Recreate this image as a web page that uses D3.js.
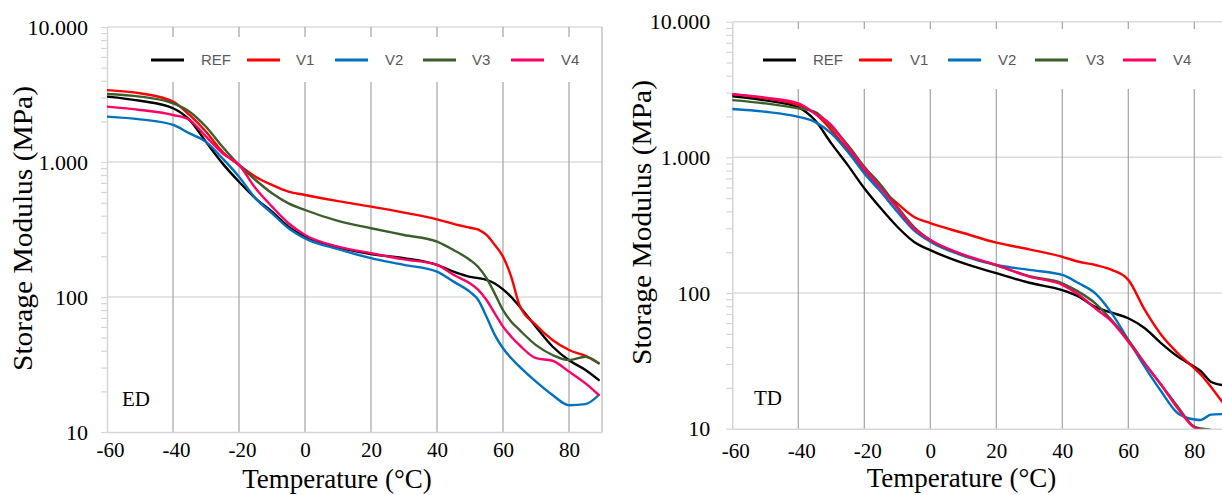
<!DOCTYPE html>
<html>
<head>
<meta charset="utf-8">
<script src="https://cdn.jsdelivr.net/npm/d3@7"></script>
<style>
  html, body { margin: 0; padding: 0; background: #ffffff; }
  svg { display: block; }
</style>
</head>
<body>
<svg id="chart" width="1222" height="495"></svg>
<script>
// ---------------- DATA ----------------
const seriesNames = ["REF", "V1", "V2", "V3", "V4"];

// ED panel (left)
const tempED = [-60,-50,-40,-35,-30,-25,-20,-15,-10,-5,0,10,20,30,40,45,50,52.5,55,57.5,60,62.5,65,70,75,80,85,89];
const refED = [3050,2840,2500,2050,1410,977,714,538,429,332,280,233,208,194,173,154,141,138,134,126,114,100,85,60,43,34,28.8,24.3];
const v1ED  = [3410,3230,2800,2230,1675,1190,951,778,676,603,570,513,467,422,376,348,326,316,288,243,199,141,87,62,48,40.5,36.6,32.3];
const v2ED  = [2170,2070,1880,1630,1410,1064,778,538,417,323,272,226,194,173,154,130,109,95,71.4,52.4,41.7,35.2,30.5,23.6,18.8,15.8,16.1,18.8];
const v3ED  = [3190,3050,2720,2360,1824,1297,951,736,586,494,441,366,323,288,257,223,188,167,138,106,80,65.6,57,44,37.2,34.1,36.1,32.3];
const v4ED  = [2570,2430,2230,2050,1540,1160,951,638,467,352,288,236,211,190,173,146,126,113,95,75.7,60.3,50.8,44,35.2,33.7,28,22.9,18.8];

// TD panel (right)
const tempTD = [-60,-50,-40,-35,-30,-25,-20,-15,-10,-5,0,10,20,30,40,45,50,55,60,65,70,75,80,82,85,88.5];
const refTD = [2820,2630,2340,1884,1268,877,592,421,308,239,207,166,140,119,105,94,79,71.6,65.2,55,42.6,34,28.6,26.5,22.2,21];
const v1TD  = [2924,2723,2427,2109,1589,1132,805,592,458,365,327,277,235,210,185,170,161,148,125,75,49,36,27.9,25,20.4,15.7];
const v2TD  = [2270,2168,1991,1828,1503,1099,762,558,397,291,239,188,161,148,136,118,99.5,70.8,45,28.6,18.8,13,11.7,11.6,12.7,12.8];
const v3TD  = [2642,2500,2296,2168,1683,1233,853,625,433,308,246,191,160,133,118,102,84,63,45,30.3,21,14.5,10.35,10.05,9.8,9.3];
const v4TD  = [2924,2754,2500,2109,1730,1197,830,592,421,300,246,192,161,132,115,97,77,61.5,43.8,30.3,21,14.1,10.2,9.8,8.9,8.3];

const xTickValues = [-60,-40,-20,0,20,40,60,80];
const xTickLabels = ["-60","-40","-20","0","20","40","60","80"];
const yTickValues = [10,100,1000,10000];
const yTickLabels = ["10","100","1.000","10.000"];
const panelLabels = ["ED","TD"];

// ---------------- STYLE ----------------
const colors = ["#000000", "#ff0000", "#0070c0", "#3b5e2b", "#ff0066"];
const serif = "'Liberation Serif','Times New Roman',serif";
const sans = "'Liberation Sans',Arial,sans-serif";

const svg = d3.select("#chart");

function drawPanel(cfg) {
  const g = svg.append("g");
  const x = d3.scaleLinear().domain([-60, 90]).range([cfg.x0, cfg.x1]);
  const y = d3.scaleLog().domain([10, 10000]).range([cfg.y0, cfg.y1]);
  const clipId = "clip" + cfg.id;

  svg.append("clipPath").attr("id", clipId)
    .append("rect")
    .attr("x", cfg.x0).attr("y", cfg.y1)
    .attr("width", cfg.x1 - cfg.x0).attr("height", cfg.y0 - cfg.y1);

  // horizontal gridlines
  g.append("g").selectAll("line").data(yTickValues.slice(1)).join("line")
    .attr("x1", cfg.x0).attr("x2", Math.min(cfg.x1, 1222))
    .attr("y1", d => y(d)).attr("y2", d => y(d))
    .attr("stroke", "#dcdcdc").attr("stroke-width", 1.5);

  // vertical gridlines
  g.append("g").selectAll("line").data(xTickValues.slice(1)).join("line")
    .attr("x1", d => x(d)).attr("x2", d => x(d))
    .attr("y1", cfg.y1).attr("y2", cfg.y0)
    .attr("stroke", "#a3a3a3").attr("stroke-width", 1.2);

  // right border
  if (cfg.x1 <= 1222) {
    g.append("line")
      .attr("x1", cfg.x1).attr("x2", cfg.x1)
      .attr("y1", cfg.y1).attr("y2", cfg.y0)
      .attr("stroke", "#b5b5b5").attr("stroke-width", 1.2);
  }

  // y axis with minor ticks
  const allY = [];
  [10, 100, 1000].forEach(dec => { for (let k = 1; k <= 9; k++) allY.push(dec * k); });
  allY.push(10000);
  const yLab = new Map(yTickValues.map((v, i) => [v, yTickLabels[i]]));
  const yAxis = g.append("g")
    .attr("transform", `translate(${cfg.x0},0)`)
    .call(d3.axisLeft(y).tickValues(allY).tickSize(6).tickSizeOuter(0)
      .tickPadding(cfg.yPad).tickFormat(d => yLab.get(d) || ""));
  yAxis.select(".domain").attr("stroke", "#d6d6d6").attr("stroke-width", 1.5);
  yAxis.selectAll(".tick line").attr("stroke", "#d6d6d6").attr("stroke-width", 1.2);
  yAxis.selectAll(".tick text")
    .attr("font-family", serif).attr("font-size", 22).attr("fill", "#000");

  // x axis
  const xLab = new Map(xTickValues.map((v, i) => [v, xTickLabels[i]]));
  const xAxis = g.append("g")
    .attr("transform", `translate(0,${cfg.y0})`)
    .call(d3.axisBottom(x).tickValues(xTickValues).tickSize(0).tickSizeOuter(0)
      .tickPadding(cfg.xPad).tickFormat(d => xLab.get(d)));
  xAxis.select(".domain").attr("stroke", "#d6d6d6").attr("stroke-width", 1.5);
  xAxis.selectAll(".tick text")
    .attr("font-family", serif).attr("font-size", 21).attr("fill", "#000")
    .attr("dx", d => d < 0 ? 3 : 0);

  // legend box (white, interrupts gridlines)
  g.append("rect")
    .attr("x", cfg.legX0).attr("y", cfg.legY0)
    .attr("width", cfg.legX1 - cfg.legX0).attr("height", cfg.legY1 - cfg.legY0)
    .attr("fill", "#ffffff");

  const leg = g.append("g");
  seriesNames.forEach((name, i) => {
    leg.append("line")
      .attr("x1", cfg.legLine[i]).attr("x2", cfg.legLine[i] + 33)
      .attr("y1", 60).attr("y2", 60)
      .attr("stroke", colors[i]).attr("stroke-width", 3);
    leg.append("text")
      .attr("x", cfg.legText[i]).attr("y", 60).attr("dy", "0.35em")
      .attr("font-family", sans).attr("font-size", 15).attr("fill", "#595959")
      .text(name);
  });

  // curves
  const line = d3.line()
    .x(d => x(d[0])).y(d => y(d[1]))
    .curve(d3.curveMonotoneX);
  const curvesG = g.append("g").attr("clip-path", `url(#${clipId})`);
  cfg.series.forEach((vals, i) => {
    const pts = cfg.temps.map((t, j) => [t, vals[j]]);
    curvesG.append("path")
      .attr("d", line(pts))
      .attr("fill", "none")
      .attr("stroke", colors[i])
      .attr("stroke-width", 2.4)
      .attr("stroke-linejoin", "round")
      .attr("stroke-linecap", "round");
  });

  // panel label
  g.append("text")
    .attr("x", cfg.labX).attr("y", cfg.labY)
    .attr("font-family", serif).attr("font-size", 21).attr("fill", "#000")
    .text(cfg.label);

  // axis titles
  g.append("text")
    .attr("transform", `translate(${cfg.yTitleX},${cfg.yTitleY}) rotate(-90)`)
    .attr("text-anchor", "middle")
    .attr("font-family", serif).attr("font-size", 27).attr("fill", "#000")
    .attr("textLength", 285).attr("lengthAdjust", "spacingAndGlyphs")
    .text("Storage Modulus (MPa)");

  g.append("text")
    .attr("x", cfg.xTitleX).attr("y", cfg.xTitleY)
    .attr("text-anchor", "middle")
    .attr("font-family", serif).attr("font-size", 27).attr("fill", "#000")
    .text("Temperature (°C)");
}

drawPanel({
  id: "ED", x0: 107, x1: 602, y0: 432, y1: 27,
  yPad: 13, xPad: 10,
  temps: tempED, series: [refED, v1ED, v2ED, v3ED, v4ED],
  legX0: 145, legX1: 590, legY0: 37, legY1: 82,
  legLine: [151, 247, 335, 423, 511],
  legText: [201, 296, 385, 472, 561],
  label: panelLabels[0], labX: 122, labY: 406,
  yTitleX: 32, yTitleY: 228.5,
  xTitleX: 337, xTitleY: 488
});

drawPanel({
  id: "TD", x0: 732.3, x1: 1227.3, y0: 428.7, y1: 21.7,
  yPad: 16, xPad: 14,
  temps: tempTD, series: [refTD, v1TD, v2TD, v3TD, v4TD],
  legX0: 757, legX1: 1198, legY0: 29, legY1: 89,
  legLine: [763, 859, 948, 1035, 1123],
  legText: [813, 910, 998, 1086, 1173],
  label: panelLabels[1], labX: 754, labY: 405,
  yTitleX: 651, yTitleY: 222.5,
  xTitleX: 961.5, xTitleY: 487
});
</script>
</body>
</html>
